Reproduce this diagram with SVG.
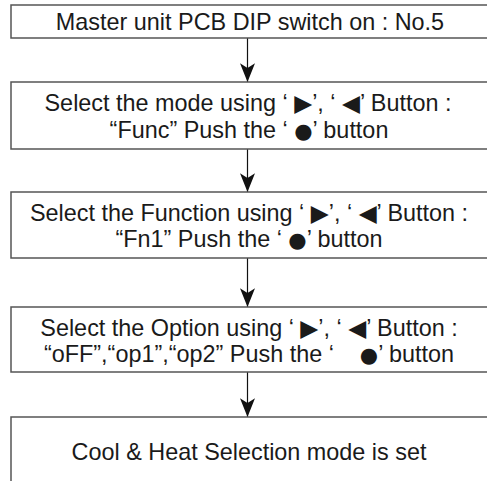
<svg xmlns="http://www.w3.org/2000/svg" width="487" height="481" viewBox="0 0 487 481">
<style>
.box{fill:#fff;stroke:#555;stroke-width:1.5}
.t{font-family:"Liberation Sans",Arial,"DejaVu Sans",sans-serif;font-size:23.4px;fill:#1a1a1a;text-anchor:middle}
.dot{font-family:"DejaVu Sans",sans-serif;font-size:21px}
.ln{stroke:#111;stroke-width:1.2;fill:none}
</style>
<defs>
<marker id="ah" viewBox="0 0 20 16" refX="20" refY="8" markerWidth="20" markerHeight="15" markerUnits="userSpaceOnUse" orient="auto">
<path d="M0,0 L20,8 L0,16 L5,8 Z" fill="#111"/>
</marker>
</defs>
<rect width="487" height="481" fill="#fff"/>
<g id="connectors">
<line class="ln" x1="247.5" y1="38" x2="247.5" y2="82" marker-end="url(#ah)"/>
<line class="ln" x1="247.5" y1="149" x2="247.5" y2="192" marker-end="url(#ah)"/>
<line class="ln" x1="247.5" y1="258" x2="247.5" y2="307" marker-end="url(#ah)"/>
<line class="ln" x1="247.5" y1="372" x2="247.5" y2="417" marker-end="url(#ah)"/>
</g>
<g id="n1">
<rect class="box" x="11" y="5" width="490" height="33"/>
<text class="t" x="250" y="30">Master unit PCB DIP switch on : No.5</text>
</g>
<g id="n2">
<rect class="box" x="11" y="82" width="490" height="67"/>
<text class="t" x="248" y="111">Select the mode using ‘ ▶’, ‘ ◀’ Button :</text>
<text class="t" x="249" y="138">“Func” Push the ‘ <tspan class="dot">●</tspan>’ button</text>
</g>
<g id="n3">
<rect class="box" x="11" y="192" width="490" height="66"/>
<text class="t" x="249" y="221">Select the Function using ‘ ▶’, ‘ ◀’ Button :</text>
<text class="t" x="249" y="247">“Fn1” Push the ‘ <tspan class="dot">●</tspan>’ button</text>
</g>
<g id="n4">
<rect class="box" x="11" y="307" width="490" height="65"/>
<text class="t" x="249" y="336">Select the Option using ‘ ▶’, ‘ ◀’ Button :</text>
<text class="t" x="249" y="362" xml:space="preserve">“oFF”,“op1”,“op2” Push the ‘    <tspan class="dot">●</tspan>’ button</text>
</g>
<g id="n5">
<rect class="box" x="11" y="417" width="490" height="90"/>
<text class="t" x="249" y="460">Cool &amp; Heat Selection mode is set</text>
</g>
</svg>
